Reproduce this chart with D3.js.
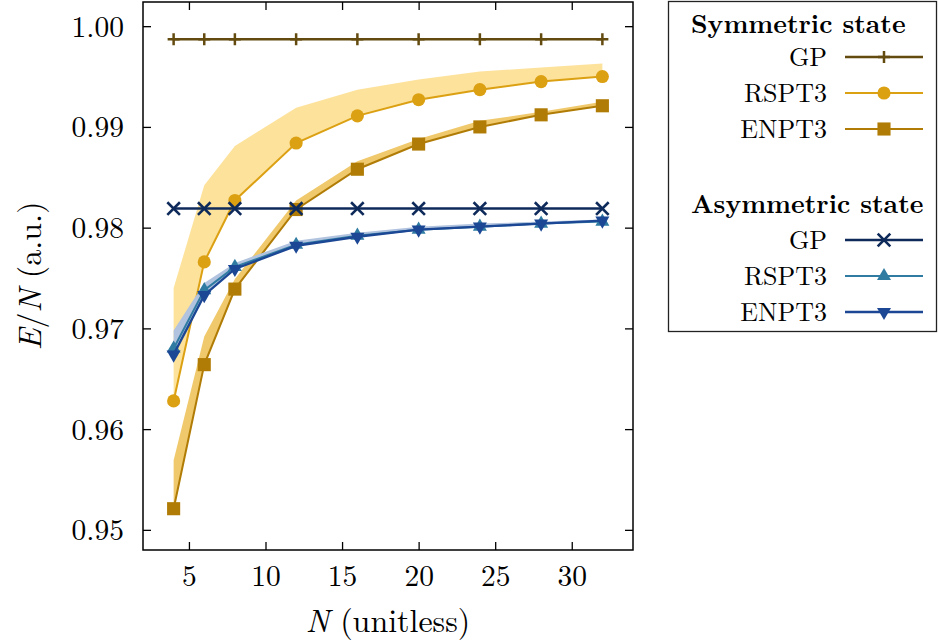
<!DOCTYPE html>
<html>
<head>
<meta charset="utf-8">
<script src="https://cdn.jsdelivr.net/npm/d3@7"></script>
<style>
    body { margin: 0; background: #fff; }
    svg { display: block; }
</style>
</head>
<body>
<svg id="chart" width="938" height="643"></svg>
<script>
// N values shared by every series
const nValues = [4, 6, 8, 12, 16, 20, 24, 28, 32];

// Symmetric state
const symGP = [0.9987, 0.9987, 0.9987, 0.9987, 0.9987, 0.9987, 0.9987, 0.9987, 0.9987];
const symRSPT3 = [0.9628, 0.9766, 0.9827, 0.9884, 0.9911, 0.9927, 0.9937, 0.9945, 0.9950];
const symRSPT3Upper = [0.9740, 0.9842, 0.9881, 0.9919, 0.9937, 0.9947, 0.9955, 0.9959, 0.9963];
const symENPT3 = [0.9521, 0.9664, 0.9739, 0.9818, 0.9858, 0.9883, 0.9900, 0.9912, 0.9921];
const symENPT3Upper = [0.9569, 0.9692, 0.9749, 0.9827, 0.9866, 0.9888, 0.9906, 0.9915, 0.9925];

// Asymmetric state
const asymGP = [0.9819, 0.9819, 0.9819, 0.9819, 0.9819, 0.9819, 0.9819, 0.9819, 0.9819];
const asymRSPT3 = [0.9680, 0.9738, 0.9761, 0.9783, 0.9792, 0.9798, 0.9801, 0.9804, 0.9806];
const asymENPT3 = [0.9674, 0.9733, 0.9759, 0.9782, 0.9791, 0.9798, 0.9801, 0.9804, 0.9807];
const asymUpper = [0.9698, 0.9745, 0.9765, 0.9787, 0.9795, 0.9801, 0.9804, 0.9806, 0.9808];

const xTicks = [5, 10, 15, 20, 25, 30];
const yTicks = [0.95, 0.96, 0.97, 0.98, 0.99, 1.00];

const fontFamily = '"Latin Modern Roman", "Liberation Serif", serif';

const colors = {
    symGP: "#634a0e",
    symRSPT3: "#dca013",
    symRSPT3Band: "#fde29c",
    symENPT3: "#b07c06",
    symENPT3Band: "#f0c96c",
    asymGP: "#0e2a5a",
    asymRSPT3: "#2f7ba2",
    asymENPT3: "#1c4794",
    asymBand: "#b1c3de"
};

const svg = d3.select("#chart");
const margin = {top: 2, right: 305, bottom: 93, left: 143};
const width = +svg.attr("width") - margin.left - margin.right;
const height = +svg.attr("height") - margin.top - margin.bottom;

const x = d3.scaleLinear().domain([2, 34]).range([0, width]);
const y = d3.scaleLinear().domain([0.948, 1.0024]).range([height, 0]);

const plot = svg.append("g")
    .attr("transform", `translate(${margin.left}, ${margin.top})`);

// Marker shapes (drawn around 0,0)
const markers = {
    plus: s => `M${-s},0H${s}M0,${-s}V${s}`,
    times: s => `M${-s},${-s}L${s},${s}M${-s},${s}L${s},${-s}`,
    circle: d3.symbol(d3.symbolCircle, 135),
    square: d3.symbol(d3.symbolSquare, 172),
    triUp: d3.symbol(d3.symbolTriangle, 85),
    triDown: d3.symbol(d3.symbolTriangle, 85)
};

function band(lower, upper, color) {
    let area = d3.area()
        .x((d, i) => x(nValues[i]))
        .y0((d, i) => y(lower[i]))
        .y1((d, i) => y(upper[i]));
    plot.append("path")
        .attr("d", area(nValues))
        .attr("fill", color);
}

function series(values, color, lineWidth, marker) {
    let line = d3.line()
        .x((d, i) => x(nValues[i]))
        .y(d => y(d));
    plot.append("path")
        .attr("d", line(values))
        .attr("fill", "none")
        .attr("stroke", color)
        .attr("stroke-width", lineWidth);
    let pts = plot.append("g").selectAll("path")
        .data(values)
        .enter()
        .append("path")
        .attr("transform", (d, i) => `translate(${x(nValues[i])}, ${y(d)})` + (marker === "triDown" ? " rotate(180)" : ""));
    drawMarker(pts, marker, color);
}

function drawMarker(sel, marker, color) {
    if (marker === "plus") {
        sel.attr("d", markers.plus(6)).attr("fill", "none").attr("stroke", color).attr("stroke-width", 2.5);
    } else if (marker === "times") {
        sel.attr("d", markers.times(6.3)).attr("fill", "none").attr("stroke", color).attr("stroke-width", 2.6);
    } else {
        sel.attr("d", markers[marker]()).attr("fill", color);
    }
}

// Bands
band(symRSPT3, symRSPT3Upper, colors.symRSPT3Band);
band(symENPT3, symENPT3Upper, colors.symENPT3Band);

// Symmetric series
series(symGP, colors.symGP, 2.5, "plus");
series(symRSPT3, colors.symRSPT3, 2, "circle");
series(symENPT3, colors.symENPT3, 2, "square");

// Asymmetric series
band(asymENPT3, asymUpper, colors.asymBand);
series(asymGP, colors.asymGP, 2.3, "times");
series(asymRSPT3, colors.asymRSPT3, 2, "triUp");
series(asymENPT3, colors.asymENPT3, 2.4, "triDown");

// Axes with inward ticks on all four sides
let xBottom = plot.append("g")
    .attr("transform", `translate(0, ${height})`)
    .call(d3.axisBottom(x).tickValues(xTicks).tickSize(-8).tickSizeOuter(0));
xBottom.selectAll("text").attr("y", 36).attr("dy", 0);

plot.append("g")
    .call(d3.axisTop(x).tickValues(xTicks).tickSize(-8).tickSizeOuter(0).tickFormat(""));

let yLeft = plot.append("g")
    .call(d3.axisLeft(y).tickValues(yTicks).tickSize(-8).tickSizeOuter(0).tickFormat(d3.format(".2f")));
yLeft.selectAll("text").attr("x", -19).attr("dy", 0).attr("y", 10);

plot.append("g")
    .attr("transform", `translate(${width}, 0)`)
    .call(d3.axisRight(y).tickValues(yTicks).tickSize(-8).tickSizeOuter(0).tickFormat(""));

plot.selectAll(".domain").remove();
plot.selectAll(".tick line").attr("stroke", "#000").attr("stroke-width", 1.3);
plot.selectAll(".tick text")
    .attr("fill", "#000")
    .style("font-family", fontFamily)
    .style("font-size", "29.5px");

plot.append("rect")
    .attr("width", width)
    .attr("height", height)
    .attr("fill", "none")
    .attr("stroke", "#000")
    .attr("stroke-width", 1.5);

// Axis labels
let xLabel = svg.append("text")
    .attr("x", margin.left + width / 2)
    .attr("y", 632)
    .attr("text-anchor", "middle")
    .style("font-family", fontFamily)
    .style("font-size", "32px");
xLabel.append("tspan").style("font-style", "italic").text("N");
xLabel.append("tspan").text(" (unitless)");

let yLabel = svg.append("text")
    .attr("transform", `translate(41, ${margin.top + height / 2}) rotate(-90)`)
    .attr("text-anchor", "middle")
    .style("font-family", fontFamily)
    .style("font-size", "32px");
yLabel.append("tspan").style("font-style", "italic").text("E");
yLabel.append("tspan").text("/");
yLabel.append("tspan").style("font-style", "italic").text("N");
yLabel.append("tspan").text(" (a.u.)");

// Legend
const legendGroups = [
    {title: "Symmetric state", titleY: 33, entries: [
        {label: "GP", color: colors.symGP, width: 2.5, marker: "plus", y: 66},
        {label: "RSPT3", color: colors.symRSPT3, width: 2, marker: "circle", y: 102},
        {label: "ENPT3", color: colors.symENPT3, width: 2, marker: "square", y: 138}
    ]},
    {title: "Asymmetric state", titleY: 213, entries: [
        {label: "GP", color: colors.asymGP, width: 2.3, marker: "times", y: 249},
        {label: "RSPT3", color: colors.asymRSPT3, width: 2, marker: "triUp", y: 285},
        {label: "ENPT3", color: colors.asymENPT3, width: 2.4, marker: "triDown", y: 321}
    ]}
];

let legend = svg.append("g");
legend.append("rect")
    .attr("x", 668.5)
    .attr("y", 1.5)
    .attr("width", 268)
    .attr("height", 330)
    .attr("fill", "#fff")
    .attr("stroke", "#222")
    .attr("stroke-width", 1.3);

legendGroups.forEach(g => {
    legend.append("text")
        .attr("x", 691)
        .attr("y", g.titleY)
        .style("font-family", fontFamily)
        .style("font-size", "26px")
        .style("font-weight", "bold")
        .text(g.title);
    g.entries.forEach(e => {
        legend.append("text")
            .attr("x", 827)
            .attr("y", e.y)
            .attr("text-anchor", "end")
            .style("font-family", fontFamily)
            .style("font-size", "26px")
            .text(e.label);
        let ly = e.y - 9;
        legend.append("line")
            .attr("x1", 845).attr("x2", 923)
            .attr("y1", ly).attr("y2", ly)
            .attr("stroke", e.color)
            .attr("stroke-width", e.width);
        let m = legend.append("path")
            .attr("transform", `translate(884, ${ly})` + (e.marker === "triDown" ? " rotate(180)" : ""));
        drawMarker(m, e.marker, e.color);
    });
});
</script>
</body>
</html>
